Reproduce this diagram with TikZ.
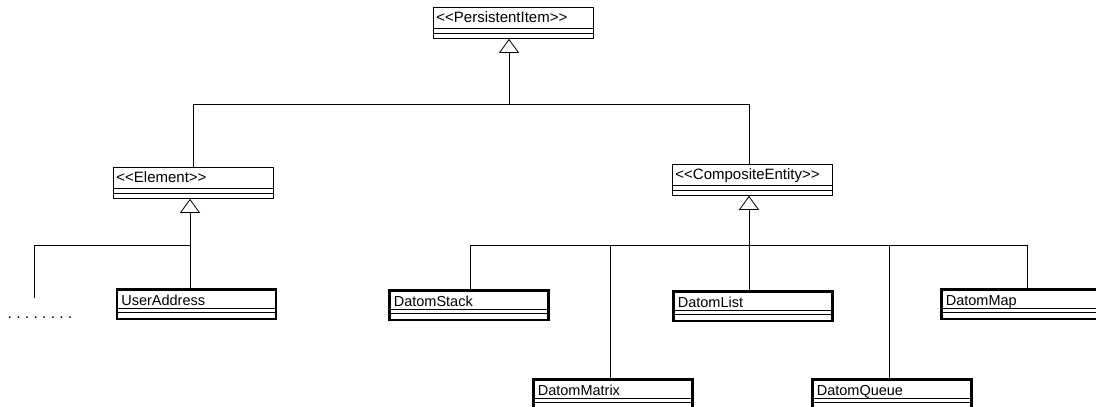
\documentclass[tikz,border=0pt]{standalone}
\usepackage{fontspec}
\setmainfont{Liberation Sans}
\usetikzlibrary{arrows.meta}

\tikzset{
  % UML class box: name compartment plus two empty compartments
  umlbase/.style={draw, rectangle, anchor=north west, inner xsep=3pt, inner ysep=0pt,
    align=left, font=\fontsize{14.5}{17}\selectfont, line width=0.8pt},
  umlthin/.style={umlbase, font=\fontsize{15}{17}\selectfont,
    text width=154pt, minimum width=160pt,
    text height=15pt, text depth=16pt,
    path picture={
      \draw[line width=0.8pt] ([yshift=10pt]path picture bounding box.south west) -- ([yshift=10pt]path picture bounding box.south east);
      \draw[line width=0.8pt] ([yshift=5pt]path picture bounding box.south west) -- ([yshift=5pt]path picture bounding box.south east);
    }},
  umlthick/.style={umlbase, line width=2.6pt, text width=150pt, inner xsep=4.5pt,
    text height=16pt, text depth=13.5pt,
    path picture={
      \draw[line width=0.8pt] ([yshift=10pt]path picture bounding box.south west) -- ([yshift=10pt]path picture bounding box.south east);
      \draw[line width=0.8pt] ([yshift=6pt]path picture bounding box.south west) -- ([yshift=6pt]path picture bounding box.south east);
    }},
  link/.style={line width=0.8pt},
  inherit/.style={link, -{Triangle[open, width=20pt, length=14pt, line width=0.8pt]}},
}

\begin{document}
\begin{tikzpicture}[x=1pt, y=-1pt]
  \useasboundingbox (0,0) rectangle (1096,407);

  % classes
  \node[umlthin] (persist) at (433,7) {<{}<PersistentItem>{}>};
  \node[umlthin] (element) at (113,167) {<{}<Element>{}>};
  \node[umlthin] (composite) at (672,164) {<{}<CompositeEntity>{}>};

  \node[umlthick] (useraddr) at (115.5,288) {UserAddress};
  \node[umlthick] (stack) at (388,289) {DatomStack};
  \node[umlthick] (list) at (672,290) {DatomList};
  \node[umlthick] (map) at (940,288) {DatomMap};
  \node[umlthick] (matrix) at (532,378) {DatomMatrix};
  \node[umlthick] (queue) at (811,378) {DatomQueue};

  % junction points of the generalisation trees
  \coordinate (topbus) at (509,104);
  \coordinate (elembus) at (190,245);
  \coordinate (compbus) at (749,245);
  \coordinate (more) at (34,298);

  % PersistentItem tree
  \draw[inherit] (topbus) -- (topbus |- persist.south);
  \draw[link] (element.north) |- (topbus);
  \draw[link] (topbus) -| (compbus |- composite.north);

  % Element tree
  \draw[inherit] (elembus) -- (elembus |- element.south);
  \draw[link] (elembus) -- (elembus |- useraddr.north);
  \draw[link] (elembus) -| (more);
  \node[anchor=base west, inner sep=0pt, font=\fontsize{15.5}{17}\selectfont] (dots) at (7.5,318) {.\ .\ .\ .\ .\ .\ .\ .};

  % CompositeEntity tree
  \draw[inherit] (compbus) -- (compbus |- composite.south);
  \draw[link] (compbus) -- (compbus |- list.north);
  \draw[link] (stack.north -| 470,0) |- (compbus);
  \draw[link] (compbus) -| (map.north -| 1027,0);
  \draw[link] (matrix.north -| 610,0) -- (610,245);
  \draw[link] (queue.north -| 889,0) -- (889,245);
\end{tikzpicture}
\end{document}
